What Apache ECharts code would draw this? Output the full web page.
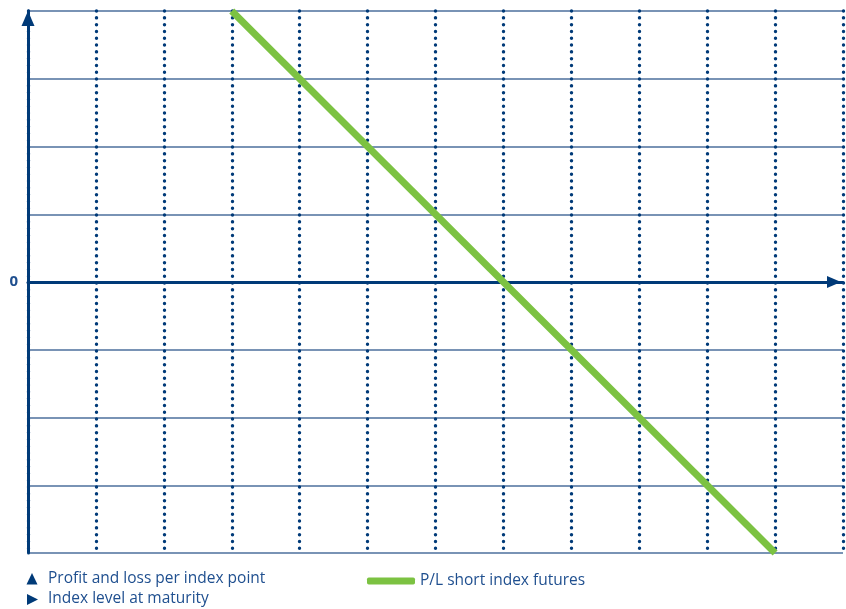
<!DOCTYPE html>
<html>
<head>
<meta charset="utf-8">
<script src="https://cdn.jsdelivr.net/npm/echarts@6/dist/echarts.min.js"></script>
<style>
html,body{margin:0;padding:0;background:#fff;}
#chart{width:846px;height:609px;}
</style>
</head>
<body>
<div id="chart"></div>
<script>
// Data
var seriesName = 'P/L short index futures';
var indexLevels = [3, 11];          // x (index level at maturity, arbitrary units)
var profitLoss = [4, -4];           // y (profit and loss per index point)
var xTickCount = 12;                // x range 0..12
var yRange = [-4, 4];
var yAxisTitle = 'Profit and loss per index point';
var xAxisTitle = 'Index level at maturity';

var navy = '#003a78';
var textBlue = '#1f4f8f';
var green = '#7cc242';

var chart = echarts.init(document.getElementById('chart'), null, {renderer: 'canvas'});
var lineData = indexLevels.map(function (x, i) { return [x, profitLoss[i]]; });

chart.setOption({
  animation: false,
  grid: {left: 28, right: 3, top: 11, bottom: 56, containLabel: false},
  xAxis: {
    type: 'value', min: 0, max: xTickCount, interval: 1,
    axisLine: {show: true, onZero: true, symbol: ['none', 'triangle'], symbolSize: [12, 14], symbolOffset: [0, -9],
      lineStyle: {color: navy, width: 3}},
    axisTick: {show: false},
    axisLabel: {show: false},
    splitLine: {show: true, lineStyle: {color: navy, width: 3.4, type: [0.1, 6.7], cap: 'round'}}
  },
  yAxis: {
    type: 'value', min: yRange[0], max: yRange[1], interval: 1,
    axisLine: {show: true, onZero: false, symbol: ['none', 'triangle'], symbolSize: [13, 15], symbolOffset: [0, -7.5],
      lineStyle: {color: navy, width: 3}},
    axisTick: {show: false},
    axisLabel: {show: true, margin: 10, color: textBlue, fontFamily: 'Open Sans', fontWeight: 'bold', fontSize: 15,
      formatter: function (v) { return v === 0 ? '0' : ''; }},
    splitLine: {show: true, lineStyle: {color: '#4d6f9c', width: 1.5}}
  },
  legend: {
    left: 362, top: 568, itemWidth: 48, itemHeight: 7, itemGap: 10,
    icon: 'roundRect',
    textStyle: {color: textBlue, fontFamily: 'Open Sans', fontSize: 15.5},
    data: [{name: seriesName, itemStyle: {color: green}}]
  },
  graphic: [
    {type: 'polygon', shape: {points: [[26.5, 584.5], [37.5, 584.5], [32, 573]]}, style: {fill: navy}},
    {type: 'polygon', shape: {points: [[27, 594], [27, 605], [38, 599.5]]}, style: {fill: navy}},
    {type: 'text', left: 48, top: 571, style: {text: yAxisTitle, fill: textBlue, font: '15.5px "Open Sans"'}},
    {type: 'text', left: 48, top: 591, style: {text: xAxisTitle, fill: textBlue, font: '15.5px "Open Sans"'}}
  ],
  series: [{
    name: seriesName, type: 'line', data: lineData, showSymbol: false, symbol: 'none',
    lineStyle: {color: green, width: 7}, itemStyle: {color: green}, z: 5
  }]
});
</script>
</body>
</html>
